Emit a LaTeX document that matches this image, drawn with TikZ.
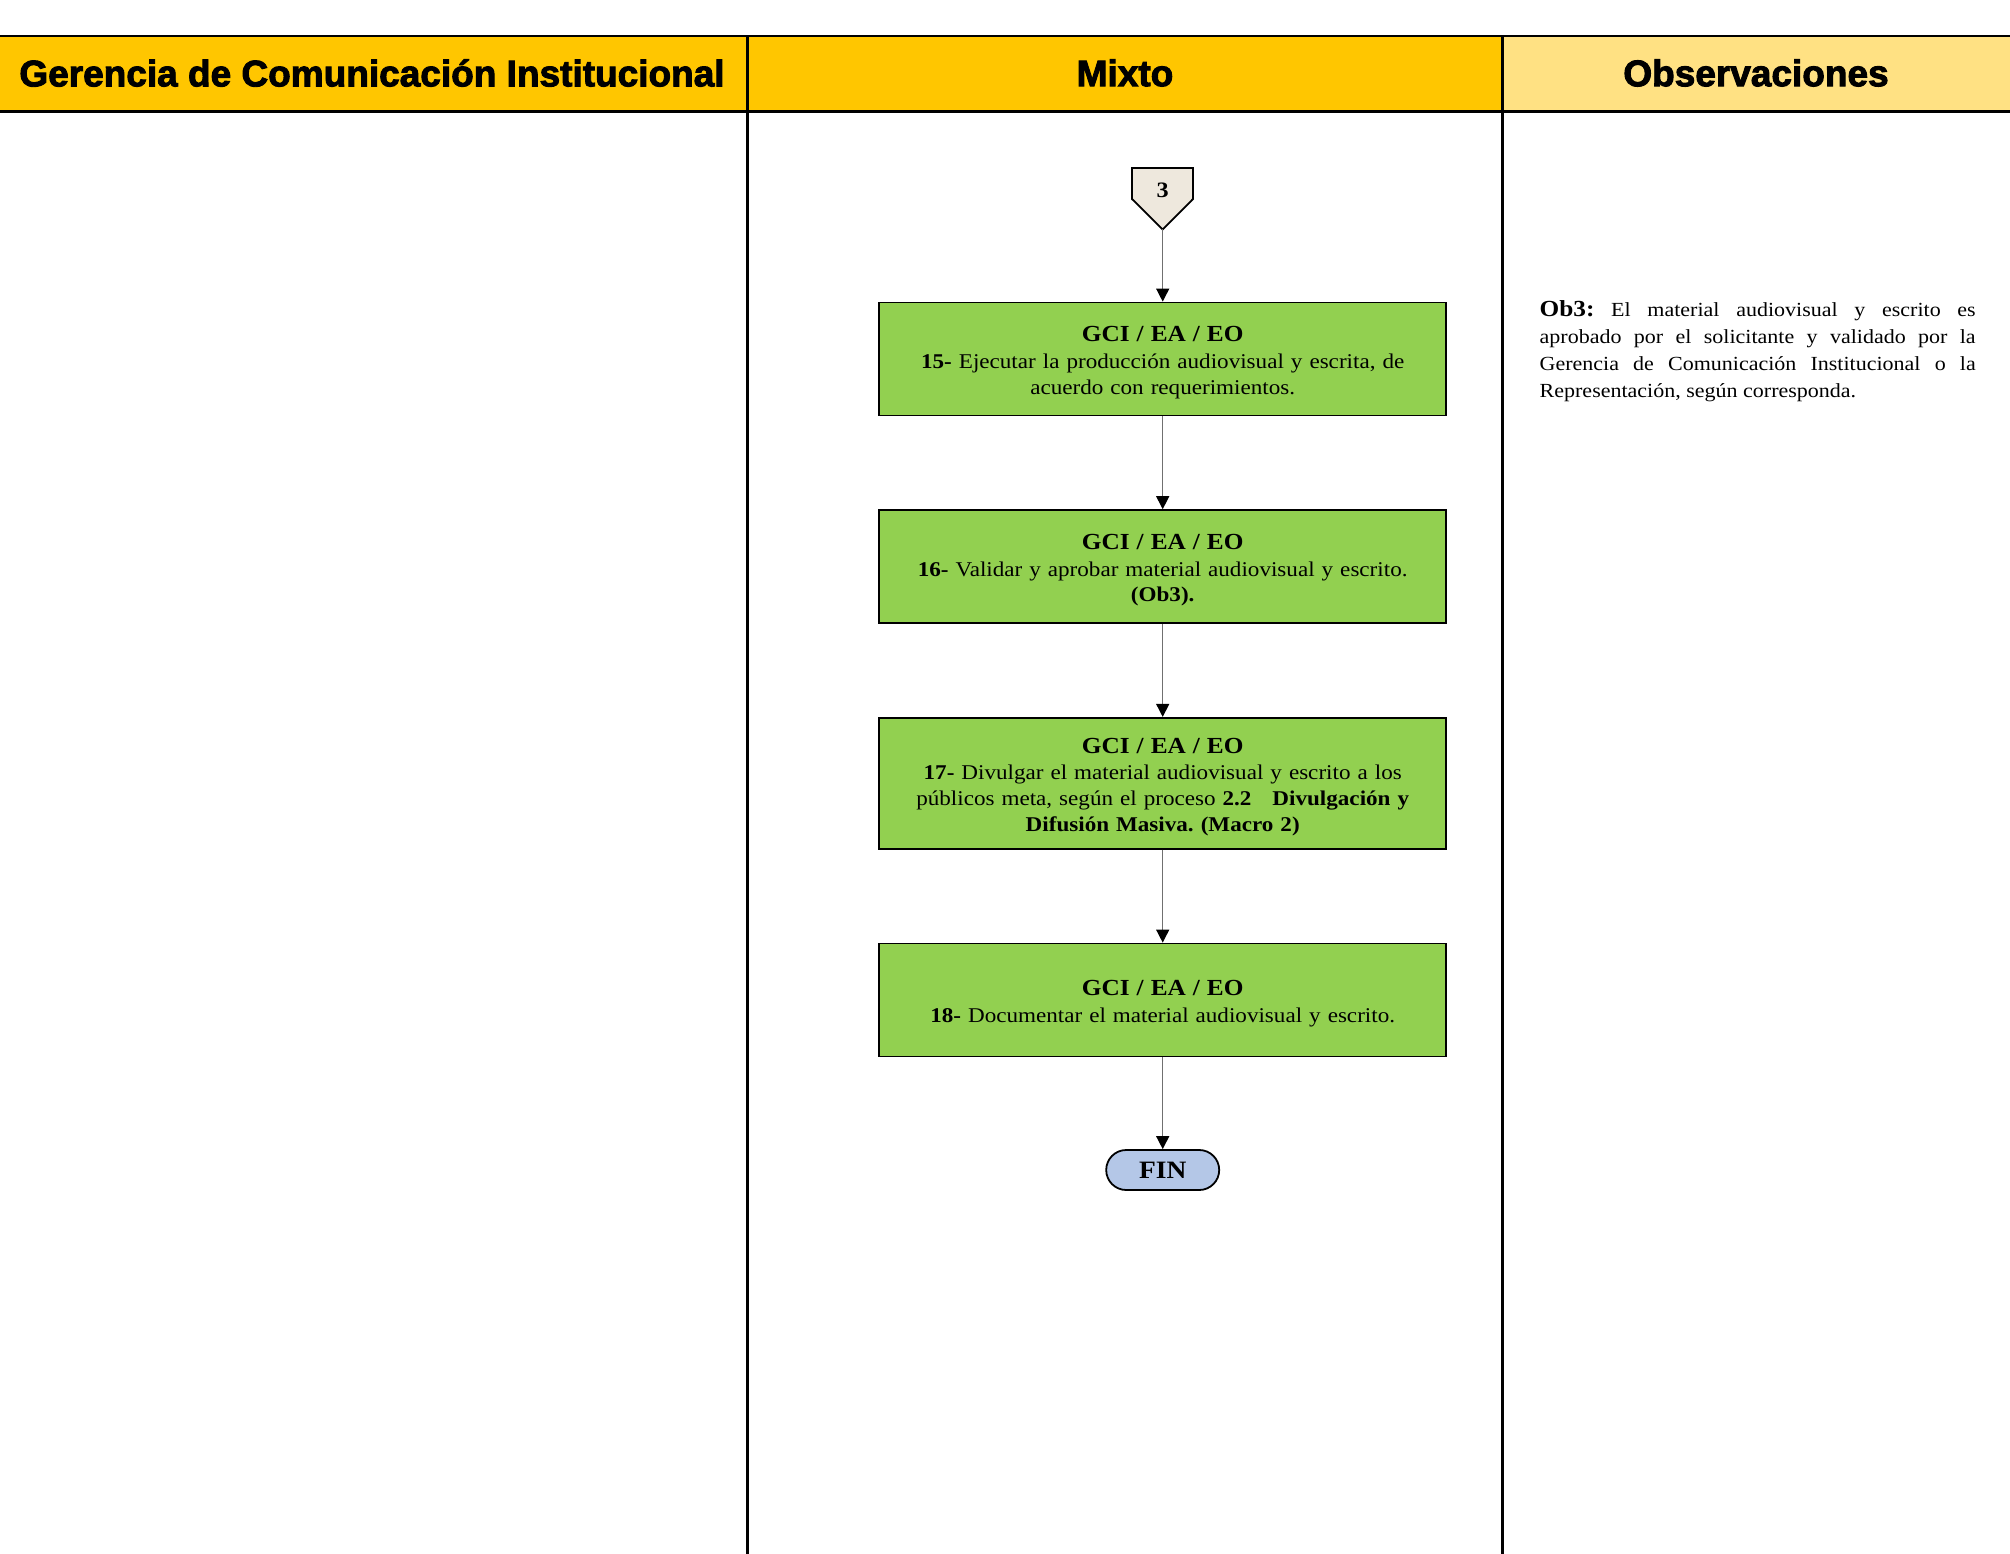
\documentclass[tikz,border=0pt]{standalone}
\usepackage{fontspec}
\usetikzlibrary{arrows.meta}
\setmainfont{Liberation Serif}[FakeStretch=1.1]
\newfontfamily\hdrfont[BoldFeatures={FakeBold=2.5}]{Liberation Sans}
\newcommand\palfont{\rmfamily\frenchspacing}
\newcommand\gcihead{{\fontsize{23}{26}\selectfont\bfseries\rule{0pt}{22.5pt}GCI / EA / EO}}
\definecolor{hdrgold}{HTML}{FFC600}
\definecolor{hdrlight}{HTML}{FFE183}
\definecolor{actgreen}{HTML}{92D050}
\definecolor{conntan}{HTML}{EEE8DD}
\definecolor{finblue}{HTML}{B4C7E7}
\definecolor{flowgray}{HTML}{707070}
\begin{document}
\begin{tikzpicture}[x=1pt,y=-1pt,
  hdrtext/.style={font=\hdrfont\bfseries\fontsize{37}{40}\selectfont, anchor=center, inner sep=0pt},
  actbox/.style={draw=black, line width=1.8pt, fill=actgreen, minimum width=567pt, text width=560pt,
    align=center, inner sep=0pt, font=\palfont\fontsize{21}{25.7}\selectfont},
  flow/.style={draw=flowgray, line width=1.4pt, -{Triangle[width=13pt,length=13pt,color=black]}},
  connshape/.style={draw=black, line width=1.8pt, fill=conntan, line join=miter},
  finbox/.style={draw=black, line width=1.8pt, fill=finblue, rounded corners=20pt, minimum width=113pt,
    minimum height=40pt, inner sep=0pt, font=\palfont\bfseries\fontsize{25}{28}\selectfont},
  obstext/.style={text width=436pt, align=justify, inner sep=0pt, anchor=base west,
    font=\palfont\fontsize{20}{27}\selectfont},
  gridline/.style={draw=black, line width=2.6pt}
]
\useasboundingbox (0,0) rectangle (2010,1554);
% header band
\fill[hdrgold] (0,36) rectangle (747.4,111.5);
\fill[hdrgold] (747.4,36) rectangle (1502.4,111.5);
\fill[hdrlight] (1502.4,36) rectangle (2010,111.5);
\draw[gridline] (0,36) -- (2010,36);
\draw[gridline] (0,111.5) -- (2010,111.5);
\draw[gridline] (747.4,36) -- (747.4,1554);
\draw[gridline] (1502.4,36) -- (1502.4,1554);
\node[hdrtext] (h1) at (372,73) {Gerencia de Comunicación Institucional};
\node[hdrtext] (h2) at (1125,73) {Mixto};
\node[hdrtext] (h3) at (1756,73) {Observaciones};
% off-page connector 3
\coordinate (c3tip) at (1162.7,229.5);
\draw[connshape] (1132,168) -- (1193,168) -- (1193,199) -- (c3tip) -- (1132,199) -- cycle;
\node[font=\palfont\bfseries\fontsize{22}{24}\selectfont, inner sep=0pt] (c3) at (1162.7,190) {3};
% activities
\node[actbox, minimum height=113pt] (b15) at (1162.7,359) {\gcihead\\[1pt]
  \textbf{15-} Ejecutar la producción audiovisual y escrita, de\\ acuerdo con requerimientos.};
\node[actbox, minimum height=113pt] (b16) at (1162.7,566.6) {\gcihead\\[1pt]
  \textbf{16-} Validar y aprobar material audiovisual y escrito.\\ \textbf{(Ob3).}};
\node[actbox, minimum height=131pt] (b17) at (1162.7,783.3) {\gcihead\\[1pt]
  \textbf{17-} Divulgar el material audiovisual y escrito a los\\ públicos meta, según el proceso \textbf{2.2\ \ \ Divulgación y}\\ \textbf{Difusión Masiva. (Macro 2)}};
\node[actbox, minimum height=113pt] (b18) at (1162.7,1000) {\gcihead\\[1pt]
  \textbf{18-} Documentar el material audiovisual y escrito.};
\node[finbox] (fin) at (1162.7,1170) {FIN};
% connectors
\draw[flow] (c3tip) -- (b15.north);
\draw[flow] (b15.south) -- (b16.north);
\draw[flow] (b16.south) -- (b17.north);
\draw[flow] (b17.south) -- (b18.north);
\draw[flow] (b18.south) -- (fin.north);
% observation
\node[obstext] (ob3) at (1539.5,316.6) {{\fontsize{23}{27}\selectfont\bfseries Ob3:} El material audiovisual y escrito es\linebreak aprobado por el solicitante y validado por la\linebreak Gerencia de Comunicación Institucional o la\linebreak Representación, según corresponda.};
\end{tikzpicture}
\end{document}
